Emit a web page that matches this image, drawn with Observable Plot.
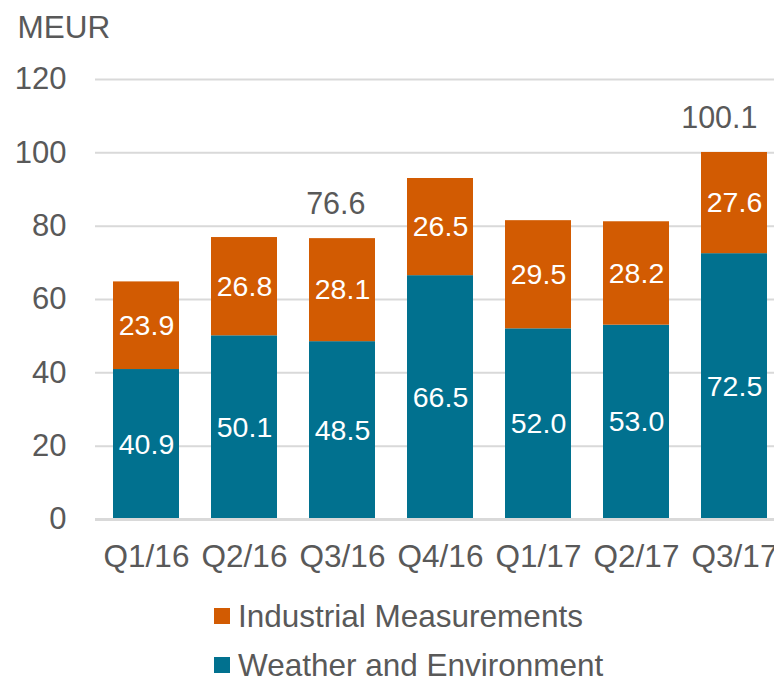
<!DOCTYPE html>
<html>
<head>
<meta charset="utf-8">
<script src="https://cdn.jsdelivr.net/npm/d3@7"></script>
<script src="https://cdn.jsdelivr.net/npm/@observablehq/plot@0.6"></script>
<style>
  html, body { margin: 0; padding: 0; background: #fff; }
  #wrap { position: relative; width: 774px; height: 679px; overflow: hidden; font-family: "Liberation Sans", Arial, sans-serif; }
  .leg { position: absolute; left: 214px; display: flex; align-items: center; font-size: 31.5px; line-height: 26px; height: 26px; color: #595959; white-space: nowrap; }
  .sw { width: 16px; height: 16px; margin-right: 8px; flex: none; }
</style>
</head>
<body>
<div id="wrap"></div>
<script>
const quarters = ["Q1/16", "Q2/16", "Q3/16", "Q4/16", "Q1/17", "Q2/17", "Q3/17"];
const weather = [40.9, 50.1, 48.5, 66.5, 52.0, 53.0, 72.5];
const industrial = [23.9, 26.8, 28.1, 26.5, 29.5, 28.2, 27.6];
const seriesNames = ["Weather and Environment", "Industrial Measurements"];
const seriesColors = ["#01718F", "#D25B02"];
const totalQuarters = ["Q3/16", "Q3/17"];
const totalValues = [76.6, 100.1];
const yTicks = [0, 20, 40, 60, 80, 100, 120];
const unitLabel = "MEUR";

const rows = quarters.flatMap((q, i) => [
  {q, series: seriesNames[0], value: weather[i]},
  {q, series: seriesNames[1], value: industrial[i]}
]);
const totals = totalQuarters.map((q, i) => ({q, value: totalValues[i]}));

const font = '"Liberation Sans", Arial, sans-serif';
const chart = Plot.plot({
  width: 774,
  height: 585,
  marginLeft: 95,
  marginRight: 0,
  marginTop: 79,
  marginBottom: 66,
  style: {fontFamily: font, color: "#595959", background: "#fff"},
  x: {domain: quarters, range: [95, 784.5], paddingInner: 0.33, paddingOuter: 0.165, label: null},
  y: {domain: [0, 120], label: null},
  color: {domain: seriesNames, range: seriesColors},
  marks: [
    Plot.gridY(yTicks.filter(v => v > 0), {stroke: "#d9d9d9", strokeOpacity: 1, strokeWidth: 2}),
    Plot.barY(rows, Plot.stackY({x: "q", y: "value", fill: "series", order: seriesNames})),
    Plot.ruleY([0], {stroke: "#d9d9d9", strokeWidth: 3}),
    Plot.text(rows, Plot.stackY({x: "q", y: "value", z: "series", order: seriesNames,
      text: d => d.value.toFixed(1), fill: "white", fontSize: 28.5})),
    Plot.text(totals, {x: "q", y: "value", text: d => d.value.toFixed(1), textAnchor: "end", dx: 23, dy: -34, fill: "#595959", fontSize: 30.5}),
    Plot.axisY(yTicks, {tickSize: 0, tickPadding: 29, fontSize: 31, label: null}),
    Plot.axisX({tickSize: 0, tickPadding: 25, fontSize: 31.5, label: null}),
    Plot.text([unitLabel], {frameAnchor: "top-left", dx: -78, dy: -52, textAnchor: "start", lineAnchor: "middle", fontSize: 31.5, fill: "#595959"})
  ]
});
const wrap = document.getElementById("wrap");
wrap.appendChild(chart);

const legendOrder = [1, 0];
const legendCenters = [616, 665];
legendOrder.forEach((si, k) => {
  const item = document.createElement("div");
  item.className = "leg";
  item.style.top = (legendCenters[k] - 13) + "px";
  const sw = document.createElement("span");
  sw.className = "sw";
  sw.style.background = seriesColors[si];
  const label = document.createElement("span");
  label.textContent = seriesNames[si];
  item.appendChild(sw);
  item.appendChild(label);
  wrap.appendChild(item);
});
</script>
</body>
</html>
